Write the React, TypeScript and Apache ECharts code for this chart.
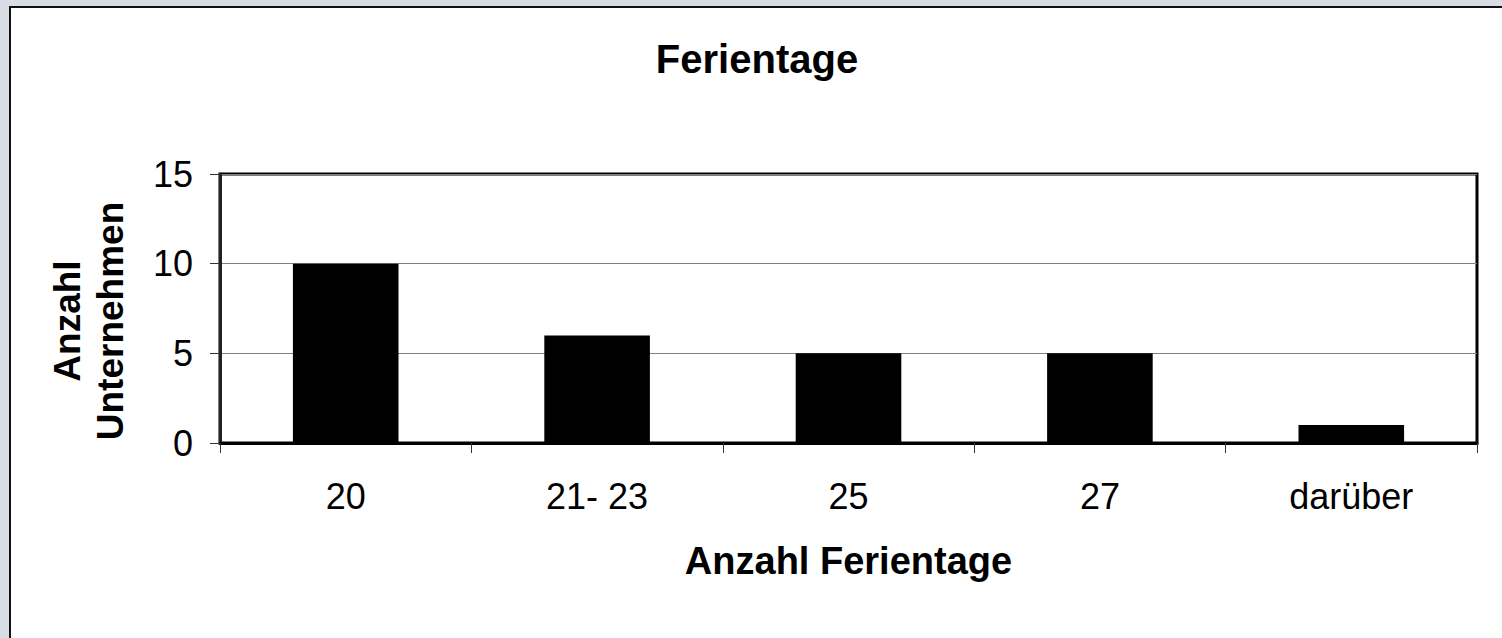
import React, { useEffect, useRef } from "react";
import * as echarts from "echarts";

const categories = ["20", "21- 23", "25", "27", "darüber"];
const values = [10, 6, 5, 5, 1];
const yMin = 0;
const yMax = 15;
const yInterval = 5;
const titleText = "Ferientage";
const xAxisName = "Anzahl Ferientage";
const yAxisName = "Anzahl\nUnternehmen";

const FONT = 'Arial, "Liberation Sans", sans-serif';

export default function App() {
  const ref = useRef<HTMLDivElement>(null);

  useEffect(() => {
    if (!ref.current) return;
    const chart = echarts.init(ref.current, null, { renderer: "svg" });
    chart.setOption({
      animation: false,
      backgroundColor: "transparent",
      textStyle: { fontFamily: FONT },
      grid: {
        left: 220,
        right: 25,
        top: 174,
        bottom: 195,
        show: true,
        borderColor: "#000",
        borderWidth: 3,
        backgroundColor: "transparent",
      },
      graphic: [
        {
          type: "text",
          x: 757,
          y: 59,
          style: {
            text: titleText,
            fontFamily: FONT,
            fontSize: 40,
            fontWeight: "bold",
            fill: "#000",
            align: "center",
            verticalAlign: "middle",
          },
        },
        {
          type: "text",
          x: 89,
          y: 321,
          rotation: Math.PI / 2,
          style: {
            text: yAxisName,
            fontFamily: FONT,
            fontSize: 37,
            fontWeight: "bold",
            lineHeight: 43,
            fill: "#000",
            align: "center",
            verticalAlign: "middle",
          },
        },
      ],
      xAxis: {
        type: "category",
        data: categories,
        name: xAxisName,
        nameLocation: "middle",
        nameGap: 99,
        nameTextStyle: {
          fontFamily: FONT,
          fontSize: 38,
          fontWeight: "bold",
          color: "#000",
        },
        axisLine: { show: true, lineStyle: { color: "#000", width: 3 } },
        axisTick: {
          show: true,
          alignWithLabel: false,
          length: 10,
          lineStyle: { color: "#333", width: 1 },
        },
        axisLabel: {
          fontFamily: FONT,
          fontSize: 36,
          color: "#000",
          margin: 35,
        },
        splitLine: { show: false },
      },
      yAxis: {
        type: "value",
        min: yMin,
        max: yMax,
        interval: yInterval,
        axisLine: { show: true, lineStyle: { color: "#222", width: 3 } },
        axisTick: {
          show: true,
          length: 10,
          lineStyle: { color: "#333", width: 1 },
        },
        axisLabel: {
          fontFamily: FONT,
          fontSize: 36,
          color: "#000",
          margin: 27,
        },
        splitLine: { show: true, lineStyle: { color: "#808080", width: 1 } },
      },
      series: [
        {
          type: "bar",
          data: values,
          barWidth: "42%",
          itemStyle: { color: "#000" },
        },
      ],
    });
    return () => chart.dispose();
  }, []);

  return (
    <div
      style={{
        position: "fixed",
        left: 0,
        top: 0,
        width: 1502,
        height: 638,
        overflow: "hidden",
        background: "#d8dce5",
      }}
    >
      <div
        style={{
          position: "absolute",
          left: 9,
          top: 6,
          width: 1520,
          height: 660,
          background: "#fff",
          borderLeft: "2px solid #111",
          borderTop: "2px solid #111",
        }}
      />
      <div
        ref={ref}
        style={{ position: "absolute", left: 0, top: 0, width: 1502, height: 638 }}
      />
    </div>
  );
}
